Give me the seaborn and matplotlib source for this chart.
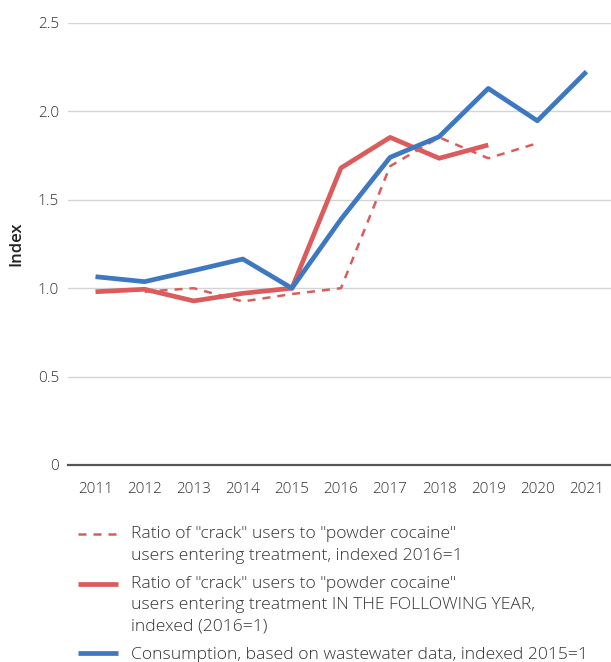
import numpy as np
import pandas as pd
import seaborn as sns
import matplotlib.pyplot as plt
from matplotlib.ticker import FuncFormatter
from matplotlib.legend_handler import HandlerLine2D

# ---- data ----
YEARS_DASHED = [2012, 2013, 2014, 2015, 2016, 2017, 2018, 2019, 2020]
RATIO_TREATMENT = [0.98, 1.0, 0.925, 0.967, 1.0, 1.69, 1.853, 1.735, 1.82]

YEARS_RED = [2011, 2012, 2013, 2014, 2015, 2016, 2017, 2018, 2019]
RATIO_FOLLOWING = [0.98, 0.994, 0.928, 0.971, 1.0, 1.68, 1.853, 1.735, 1.81]

YEARS_BLUE = [2011, 2012, 2013, 2014, 2015, 2016, 2017, 2018, 2019, 2020, 2021]
CONSUMPTION = [1.065, 1.037, 1.10, 1.165, 1.0, 1.39, 1.74, 1.857, 2.13, 1.947, 2.225]

LABELS = [
    'Ratio of "crack" users to "powder cocaine"\nusers entering treatment, indexed 2016=1',
    'Ratio of "crack" users to "powder cocaine"\nusers entering treatment IN THE FOLLOWING YEAR,\nindexed (2016=1)',
    'Consumption, based on wastewater data, indexed 2015=1',
]
YTICKS = [0, 0.5, 1.0, 1.5, 2.0, 2.5]

RED = "#db5c5c"
BLUE = "#3d78c0"
LEG_FS = 12.6
LINE_SP = 1.46
LINE_PT = 15.1   # distance between text lines in the legend, points


# legend handle sits on the first text line, not the middle of the block
class TopLineHandler(HandlerLine2D):
    def __init__(self, nlines, **kw):
        super().__init__(**kw)
        self.nlines = nlines

    def create_artists(self, legend, orig_handle, xdescent, ydescent,
                       width, height, fontsize, trans):
        shift = (self.nlines - 1) * LINE_PT / 2
        return super().create_artists(legend, orig_handle, xdescent,
                                      ydescent - 2 * shift, width, height,
                                      fontsize, trans)


sns.set_style("white")
plt.rcParams["font.family"] = ["Open Sans", "DejaVu Sans"]

fig = plt.figure(figsize=(6.11, 6.62), dpi=100)
ax = fig.add_axes([68 / 611, (662 - 465) / 662, 543 / 611, 442 / 662])

df_dash = pd.DataFrame({"year": YEARS_DASHED, "value": RATIO_TREATMENT})
df_red = pd.DataFrame({"year": YEARS_RED, "value": RATIO_FOLLOWING})
df_blue = pd.DataFrame({"year": YEARS_BLUE, "value": CONSUMPTION})

sns.lineplot(data=df_dash, x="year", y="value", ax=ax, color=RED, lw=1.8,
             linestyle=(0, (3.2, 2.8)), label=LABELS[0])
sns.lineplot(data=df_red, x="year", y="value", ax=ax, color=RED, lw=3.4,
             label=LABELS[1], solid_capstyle="butt")
sns.lineplot(data=df_blue, x="year", y="value", ax=ax, color=BLUE, lw=3.4,
             label=LABELS[2], solid_capstyle="butt")

ax.set_xlim(2010.44, 2021.5)
ax.set_ylim(0, 2.5)
ax.set_yticks(YTICKS)
ax.yaxis.set_major_formatter(FuncFormatter(lambda v, p: "0" if v == 0 else f"{v:.1f}"))
ax.set_xticks(YEARS_BLUE)
ax.grid(axis="y", color="#d4d4d4", lw=1)
ax.set_axisbelow(True)
for s in ["top", "right", "left"]:
    ax.spines[s].set_visible(False)
ax.spines["bottom"].set_color("#555555")
ax.spines["bottom"].set_linewidth(1.6)
ax.tick_params(axis="both", length=0, labelsize=11, colors="#333333")
ax.tick_params(axis="y", pad=6.5)
ax.tick_params(axis="x", pad=12)
for t in ax.get_xticklabels() + ax.get_yticklabels():
    t.set_fontweight("light")
ax.set_xlabel("")
ax.set_ylabel("Index", fontsize=12, fontweight="semibold", color="#222222")
ax.yaxis.set_label_coords(-0.08, 0.5)

handles, labels = ax.get_legend_handles_labels()
ax.legend_.remove()
hmap = {h: TopLineHandler(l.count("\n") + 1) for h, l in zip(handles, labels)}
leg = fig.legend(handles, labels, loc="upper left", bbox_to_anchor=(78 / 611, 1 - 526 / 662),
                 frameon=False, fontsize=LEG_FS, handlelength=2.3, handletextpad=0.74,
                 labelspacing=0.7, borderpad=0, borderaxespad=0,
                 labelcolor="#333333", handler_map=hmap)
for t in leg.get_texts():
    t.set_linespacing(LINE_SP)
    t.set_fontweight("light")

fig.savefig("out.png", dpi=100)
